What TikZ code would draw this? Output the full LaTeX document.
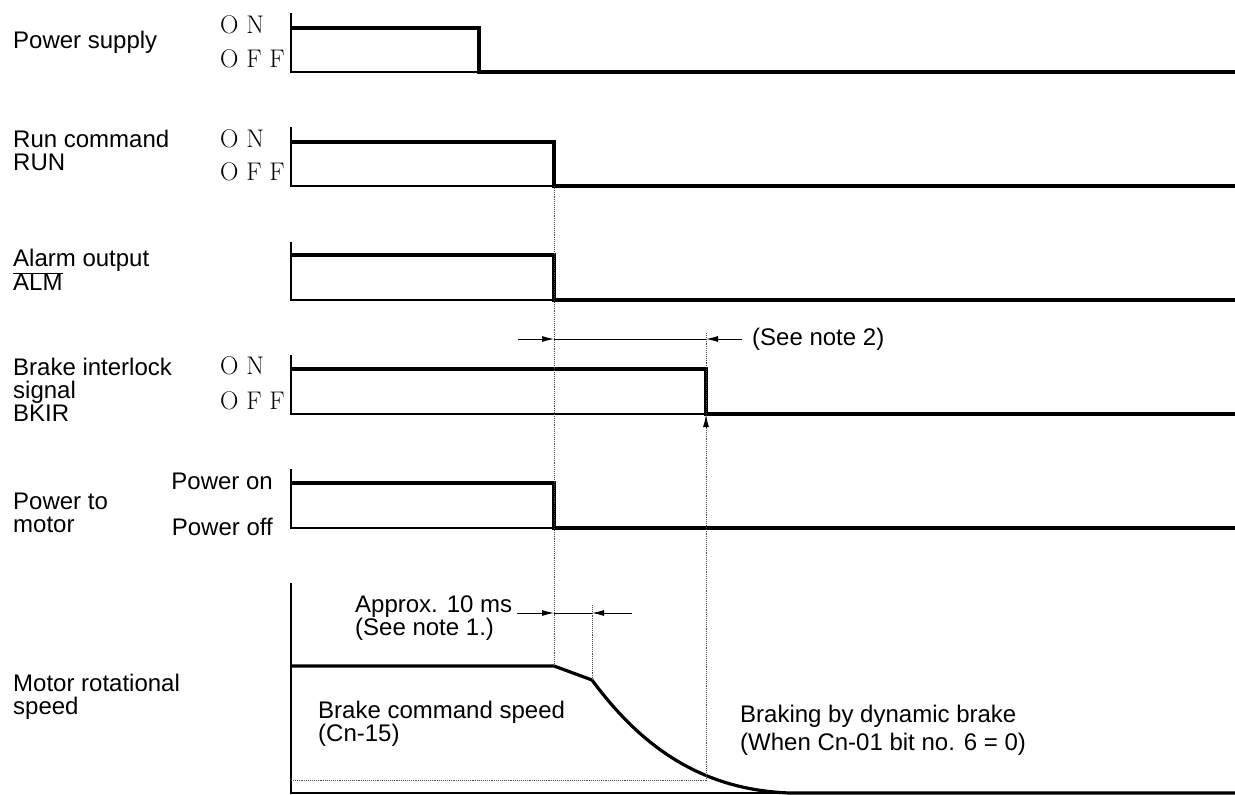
\documentclass[tikz,border=0pt]{standalone}
\usepackage{fontspec}
\setsansfont{Liberation Sans}
\usetikzlibrary{arrows.meta}

\begin{document}
\begin{tikzpicture}[x=1pt, y=-1pt,
   sig/.style={line width=3.2pt},
   base/.style={line width=1.4pt},
   guide/.style={densely dotted, line width=0.9pt, black!70},
   dim/.style={line width=0.9pt},
   tip/.style={-{Latex[length=12pt,width=6pt]}},
   lab/.style={font=\sffamily\fontsize{24}{23}\selectfont, align=left, anchor=west, inner sep=0pt},
   onoff/.style={font=\fontsize{25.5}{25.5}\selectfont, anchor=west, inner sep=0pt}]
   \useasboundingbox (0,0) rectangle (1235,795);

   % signal names
   \node[lab] (supply) at (13,42) {Power supply};
   \node[lab] (run) at (13,150) {Run command\\RUN};
   \node[lab] (alarm) at (13,270) {Alarm output\\$\overline{\mbox{ALM}}$};
   \node[lab] (bkir) at (13,390) {Brake interlock\\signal\\BKIR};
   \node[lab] (pwr) at (13,513) {Power to\\motor};
   \node[lab] (speed) at (13,697) {Motor rotational\\speed};

   % levels
   \node[onoff] (supplyon) at (220,25) {O N};
   \node[onoff] (supplyoff) at (220,59) {O F F};
   \node[onoff] (runon) at (220,139) {O N};
   \node[onoff] (runoff) at (220,172) {O F F};
   \node[onoff] (bkiron) at (220,366) {O N};
   \node[onoff] (bkiroff) at (220,401) {O F F};
   \node[lab, anchor=east] (pwron) at (273,481) {Power on};
   \node[lab, anchor=east] (pwroff) at (273,527) {Power off};

   % power supply
   \draw[base] (291,13) -- (291,72) -- (479,72);
   \draw[sig] (291,28) -- (479,28) -- (479,72) -- (1235,72);
   % run command
   \draw[base] (291,127) -- (291,186) -- (554,186);
   \draw[sig] (291,142) -- (554,142) -- (554,186) -- (1235,186);
   % alarm
   \draw[base] (291,242) -- (291,300) -- (554,300);
   \draw[sig] (291,255) -- (554,255) -- (554,300) -- (1235,300);
   % brake interlock
   \draw[base] (291,355) -- (291,414) -- (706,414);
   \draw[sig] (291,369) -- (706,369) -- (706,414) -- (1235,414);
   % power to motor
   \draw[base] (291,469) -- (291,528) -- (554,528);
   \draw[sig] (291,483) -- (554,483) -- (554,528) -- (1235,528);
   % motor speed
   \draw[base] (291,583) -- (291,793) -- (790,793);
   \draw[sig] (291,666) -- (554,666) -- (592,680)
      .. controls (640,745) and (700,790) .. (790,793) -- (1235,793);

   % timing guides
   \draw[guide] (554,186) -- (554,666);
   \draw[guide] (706,333) -- (706,780);
   \draw[guide] (592,605) -- (592,680);
   \draw[guide] (291,780) -- (706,780);
   \draw[dim, tip] (706,428) -- (706,415);

   % note 2
   \draw[dim, tip] (518,339) -- (554,339);
   \draw[dim] (554,339) -- (706,339);
   \draw[dim, tip] (742,339) -- (706,339);
   \node[lab] (note2) at (752,339) {(See note 2)};

   % note 1
   \draw[dim, tip] (517,613) -- (554,613);
   \draw[dim] (554,613) -- (592,613);
   \draw[dim, tip] (632,613) -- (592,613);
   \node[lab] (note1) at (355,618) {Approx. 10 ms\\(See note 1.)};

   \node[lab] (cmdspeed) at (318,724) {Brake command speed\\(Cn-15)};
   \node[lab] (dynbrake) at (740,730) {Braking by dynamic brake\\[5pt](When Cn-01 bit no. 6 = 0)};
\end{tikzpicture}
\end{document}
